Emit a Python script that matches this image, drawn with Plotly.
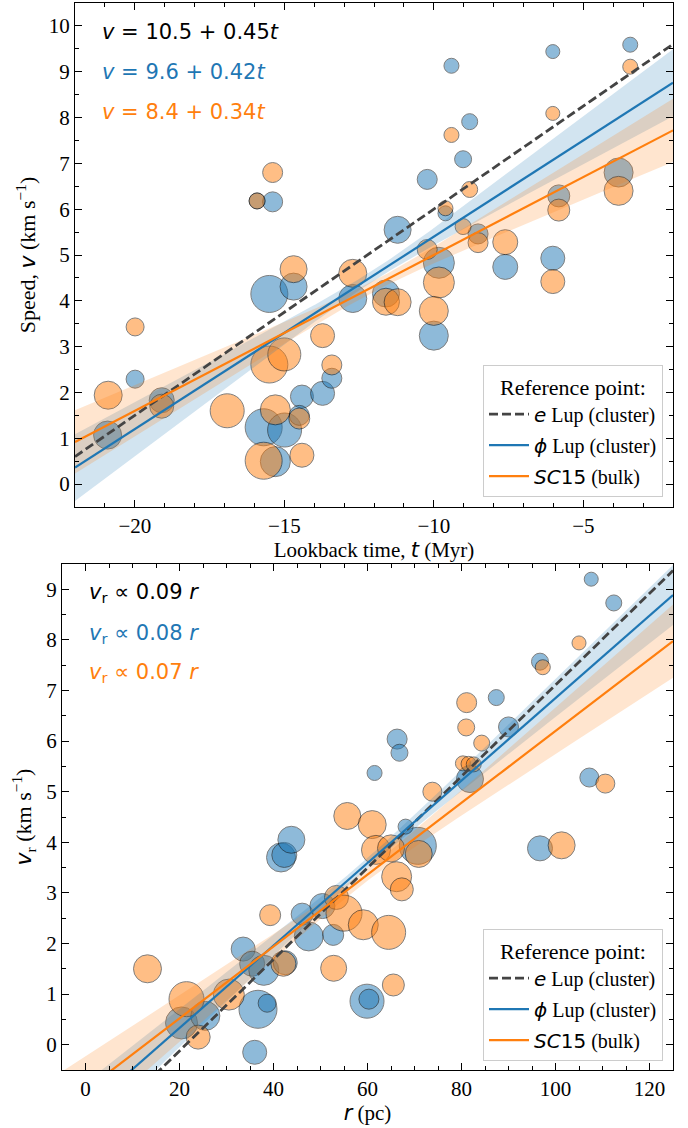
import numpy as np
import plotly.graph_objects as go

BLUE = "#1f77b4"
ORANGE = "#ff7f0e"
DASH_COLOR = "#444444"
BLUE_FILL = "rgba(31,119,180,0.2)"
ORANGE_FILL = "rgba(255,127,14,0.2)"
SERIF = "Liberation Serif"
MATH = "DejaVu Sans"

# ---------------- Upper panel: speed vs lookback time ----------------
top_blue_t = [-20.91, -19.99, -19.10, -15.50, -14.69, -15.91, -15.39, -15.69, -14.99, -15.30,
              -14.41, -14.50, -13.72, -13.41, -12.71, -11.60, -11.21, -10.22, -9.83, -10.00,
              -9.61, -9.41, -9.02, -8.80, -8.52, -7.61, -6.02, -6.02, -5.82, -3.82, -3.43]
top_blue_v = [1.07, 2.29, 1.83, 4.15, 4.31, 6.18, 6.16, 1.24, 1.18, 0.49,
              1.91, 1.50, 1.98, 2.31, 4.05, 4.16, 5.55, 6.65, 4.83, 3.24,
              5.91, 9.13, 7.09, 7.91, 5.46, 4.74, 9.44, 4.93, 6.29, 6.80, 9.59]
top_blue_size = [28, 18, 25, 37, 27, 16, 20, 37, 34, 30,
                 23, 20, 24, 20, 28, 27, 27, 20, 31, 29,
                 15, 15, 17, 16, 20, 25, 14, 24, 22, 29, 15]

top_orange_t = [-19.10, -15.91, -15.39, -15.69, -15.30, -16.91, -15.50, -15.00, -14.69, -14.50,
                -14.41, -19.99, -20.89, -13.72, -13.41, -12.71, -11.60, -11.21, -10.22, -9.83,
                -10.00, -9.61, -9.41, -8.80, -9.02, -8.52, -7.61, -6.02, -6.02, -5.82,
                -3.82, -3.43]
top_orange_v = [1.70, 6.18, 6.80, 0.51, 1.62, 1.60, 2.61, 2.83, 4.69, 1.43,
                0.63, 3.43, 1.94, 3.24, 2.60, 4.60, 3.98, 3.97, 5.12, 4.40,
                3.78, 6.02, 7.62, 6.43, 5.62, 5.27, 5.28, 8.09, 4.42, 5.98,
                6.40, 9.11]
top_orange_size = [24, 16, 20, 37, 30, 34, 37, 33, 27, 21,
                   24, 18, 28, 24, 20, 28, 27, 27, 20, 31,
                   29, 15, 15, 16, 16, 20, 25, 14, 24, 22,
                   29, 15]

# linear fits v = a + b t for each reference point
top_fit_intercept = [10.5, 9.6, 8.4]
top_fit_slope = [0.45, 0.42, 0.34]
# confidence band of the fits (half width = sqrt(w0^2 + (ws (t - t0))^2))
top_band_w0 = [0.0, 0.12, 0.12]
top_band_ws = [0.0, 0.072, 0.068]
top_band_t0 = -12.0
top_t_range = [-22, -2]

# ---------------- Lower panel: radial velocity vs distance ----------------
bot_blue_r = [20.43, 25.5, 36.7, 38.65, 36.0, 33.55, 35.46, 37.94, 42.5, 41.6,
              42.3, 43.8, 46.1, 47.5, 50.4, 52.7, 70.7, 68.1, 59.9, 60.3,
              61.5, 66.3, 66.8, 81.8, 87.4, 90.0, 96.7, 107.6, 112.4, 107.2, 96.7]
bot_blue_v = [0.43, 0.57, 0.70, 0.82, -0.15, 1.89, 1.60, 1.47, 1.62, 3.70,
              3.75, 4.05, 2.58, 2.14, 2.74, 2.17, 3.93, 4.31, 0.86, 0.90,
              5.37, 6.04, 5.77, 5.25, 6.86, 6.28, 7.57, 9.20, 8.73, 5.28, 3.88]
bot_blue_size = [32, 29, 38, 18, 24, 24, 25, 30, 24, 29,
                 25, 27, 22, 29, 25, 21, 37, 15, 34, 20,
                 15, 20, 17, 27, 16, 20, 17, 14, 16, 19, 25]

bot_orange_r = [13.19, 21.49, 23.97, 30.5, 39.29, 42.1, 52.8, 53.4, 55.0, 55.7,
                61.0, 61.8, 65.0, 70.9, 66.2, 67.3, 59.1, 64.5, 65.5, 73.8,
                80.3, 81.5, 82.6, 81.0, 81.1, 84.3, 97.3, 105.0, 110.6, 101.3]
bot_orange_v = [1.50, 0.90, 0.15, 0.99, 2.56, 1.60, 1.51, 2.91, 2.60, 4.52,
                4.35, 3.85, 3.88, 3.77, 3.32, 3.07, 2.37, 2.22, 1.18, 5.00,
                5.56, 5.55, 5.54, 6.27, 6.76, 5.96, 7.46, 7.94, 5.16, 3.94]
bot_orange_size = [28, 35, 24, 31, 21, 25, 26, 24, 36, 27,
                   28, 29, 27, 27, 30, 23, 30, 34, 22, 19,
                   15, 15, 15, 17, 20, 16, 15, 14, 19, 27]

# linear fits v_r = c + k r
bot_fit_slope = [0.0904, 0.0815, 0.0710]
bot_fit_intercept = [-1.93, -1.30, -0.90]
bot_band_w0 = [0.0, 0.10, 0.12]
bot_band_ws = [0.0, 0.0090, 0.0110]
bot_band_r0 = 60.0
bot_r_range = [-5, 125]

legend_labels = [
    f"<span style=\"font-family:'{MATH}'\"><i>e</i></span> Lup (cluster)",
    f"<span style=\"font-family:'{MATH}'\"><i>ϕ</i></span> Lup (cluster)",
    f"<span style=\"font-family:'{MATH}'\"><i>SC</i>15</span> (bulk)",
]
fit_colors = [DASH_COLOR, BLUE, ORANGE]
fit_dash = ["9px,4px", "solid", "solid"]
fit_width = [2.8, 2.2, 2.2]
band_fill = [None, BLUE_FILL, ORANGE_FILL]

fig = go.Figure()


def add_points(x, y, size, color, xa, ya):
    fig.add_trace(go.Scatter(
        x=x, y=y, mode="markers", xaxis=xa, yaxis=ya, showlegend=False,
        marker=dict(size=size, color=color, opacity=0.5,
                    line=dict(color="black", width=1)),
        hoverinfo="skip"))


def add_fits(xr, intercepts, slopes, w0s, wss, x0, xa, ya, legend):
    xs = np.linspace(xr[0], xr[1], 200)
    # shaded confidence bands
    for i in range(3):
        if band_fill[i] is None:
            continue
        yl = intercepts[i] + slopes[i] * xs
        hw = np.sqrt(w0s[i] ** 2 + (wss[i] * (xs - x0)) ** 2)
        fig.add_trace(go.Scatter(
            x=np.concatenate([xs, xs[::-1]]),
            y=np.concatenate([yl - hw, (yl + hw)[::-1]]),
            fill="toself", fillcolor=band_fill[i], mode="lines",
            line=dict(width=0), xaxis=xa, yaxis=ya, showlegend=False,
            hoverinfo="skip"))
    # fitted lines
    for i in range(3):
        yl = intercepts[i] + slopes[i] * xs
        fig.add_trace(go.Scatter(
            x=xs, y=yl, mode="lines", xaxis=xa, yaxis=ya,
            line=dict(color=fit_colors[i], width=fit_width[i], dash=fit_dash[i]),
            name=legend_labels[i], legend=legend, legendgroup=f"{legend}{i}",
            hoverinfo="skip"))


add_points(top_blue_t, top_blue_v, top_blue_size, BLUE, "x", "y")
add_points(top_orange_t, top_orange_v, top_orange_size, ORANGE, "x", "y")
add_fits(top_t_range, top_fit_intercept, top_fit_slope, top_band_w0, top_band_ws,
         top_band_t0, "x", "y", "legend")

add_points(bot_blue_r, bot_blue_v, bot_blue_size, BLUE, "x2", "y2")
add_points(bot_orange_r, bot_orange_v, bot_orange_size, ORANGE, "x2", "y2")
add_fits(bot_r_range, bot_fit_intercept, bot_fit_slope, bot_band_w0, bot_band_ws,
         bot_band_r0, "x2", "y2", "legend2")

W, H = 688, 1128


def px_x(p):
    return p / W


def px_y(p):
    return 1 - p / H


axis_common = dict(
    showline=True, linecolor="black", linewidth=1.3, mirror="allticks",
    ticks="inside", ticklen=7, tickwidth=1, tickcolor="black",
    showgrid=False, zeroline=False,
    tickfont=dict(family=SERIF, size=21, color="black"),
    title_font=dict(family=SERIF, size=21, color="black"),
)
ytitle_font = dict(family=SERIF, size=22, color="black")


def minor(dt):
    return dict(ticks="inside", ticklen=4, tickwidth=1, tickcolor="black",
                dtick=dt, showgrid=False)


vt = f"<span style=\"font-family:'{MATH}'\"><i>v</i></span>"
fig.update_layout(
    width=W, height=H, margin=dict(l=0, r=0, t=0, b=0),
    paper_bgcolor="white", plot_bgcolor="white",
    font=dict(family=SERIF, color="black"),
    xaxis=dict(axis_common, domain=[px_x(75), px_x(673)], anchor="y",
               range=top_t_range, tick0=0, dtick=5, minor=minor(1),
               title=dict(text=f"Lookback time, <span style=\"font-family:'{MATH}'\"><i>t</i></span> (Myr)",
                          standoff=3)),
    yaxis=dict(axis_common, domain=[px_y(507), px_y(3)], anchor="x",
               range=[-0.5, 10.5], tick0=0, dtick=1, minor=minor(0.5),
               title=dict(text=f"Speed, {vt} (km s<sup>−1</sup>)", standoff=6,
                          font=ytitle_font)),
    xaxis2=dict(axis_common, domain=[px_x(62), px_x(673)], anchor="y2",
                range=bot_r_range, tick0=0, dtick=20, minor=minor(5),
                title=dict(text=f"<span style=\"font-family:'{MATH}'\"><i>r</i></span> (pc)", standoff=3)),
    yaxis2=dict(axis_common, domain=[px_y(1070), px_y(564)], anchor="x2",
                range=[-0.5, 9.5], tick0=0, dtick=1, minor=minor(0.5),
                title=dict(text=f"{vt}<sub>r</sub> (km s<sup>−1</sup>)", standoff=8,
                           font=ytitle_font)),
)

legend_common = dict(
    xanchor="right", yanchor="bottom", bgcolor="rgba(255,255,255,0.85)",
    bordercolor="#cccccc", borderwidth=1, tracegroupgap=2, itemwidth=40,
    font=dict(family=SERIF, size=20, color="black"),
    title=dict(text="Reference point:", side="top center",
               font=dict(family=SERIF, size=22, color="black")),
)
fig.update_layout(
    legend=dict(legend_common, x=px_x(663), y=px_y(497)),
    legend2=dict(legend_common, x=px_x(663), y=px_y(1061)),
)

# fit equations written inside each panel
eq_colors = ["black", BLUE, ORANGE]
top_rows = [31.7, 72, 112]
for i in range(3):
    fig.add_annotation(
        xref="paper", yref="paper", x=px_x(100), y=px_y(top_rows[i]),
        xanchor="left", yanchor="middle", showarrow=False,
        text=f"<i>v</i> = {top_fit_intercept[i]:g} + {top_fit_slope[i]:.2f}<i>t</i>",
        font=dict(family=MATH, size=21, color=eq_colors[i]))

bot_rows = [593, 634, 673]
for i in range(3):
    fig.add_annotation(
        xref="paper", yref="paper", x=px_x(87), y=px_y(bot_rows[i]),
        xanchor="left", yanchor="middle", showarrow=False,
        text=f"<i>v</i><sub>r</sub> ∝ {bot_fit_slope[i]:.2f} <i>r</i>",
        font=dict(family=MATH, size=21, color=eq_colors[i]))

fig.write_html("out.html")
